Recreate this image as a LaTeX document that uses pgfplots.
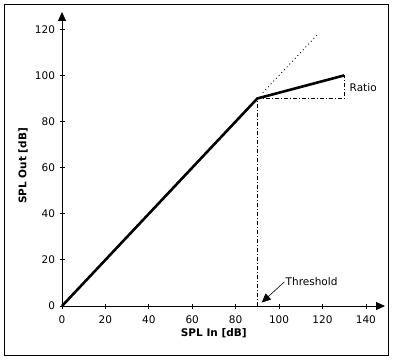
\documentclass[border=0pt]{standalone}
\usepackage{fontspec}
\setmainfont{DejaVu Sans}
\usepackage{pgfplots}
\pgfplotsset{compat=1.18}
\usetikzlibrary{arrows.meta}
\begin{document}
\begin{tikzpicture}[x=1pt,y=1pt]
\path (-62,-56) rectangle (333,306);
\draw[line width=1pt] (-57,-49) rectangle (326,301);
\begin{axis}[
  at={(0,0)}, anchor=origin,
  scale only axis, width=323pt, height=294pt,
  xmin=0, xmax=148.8, ymin=0, ymax=127.5,
  axis lines=left,
  axis line style={line width=0.8pt, -{Triangle[length=9pt,width=8pt]}},
  xtick={0,20,...,140}, ytick={0,20,...,120},
  tick align=center, major tick length=5pt,
  tick style={line width=0.8pt, black},
  ticklabel style={font=\fontsize{10.5}{12}\selectfont},
  /pgf/number format/assume math mode=true,
  xticklabel style={yshift=-4pt},
  yticklabel style={xshift=-1pt},
  xlabel={SPL In [dB]}, ylabel={SPL Out [dB]},
  label style={font=\fontsize{10.5}{12}\selectfont\bfseries},
  xlabel style={at={(rel axis cs:0.47,0)}, anchor=center, yshift=-27pt},
  ylabel style={at={(rel axis cs:0,0.476)}, anchor=center, rotate=0, yshift=39pt, xshift=0pt},
  clip=false,
]
\addplot[line width=2.6pt, black] coordinates {(0,0) (90,90) (130,100)};
\addplot[line width=0.9pt, black, dash pattern=on 0.9pt off 3pt] coordinates {(92.5,92.5) (118,118)};
\addplot[line width=0.7pt, black, dash pattern=on 4pt off 2pt on 1pt off 2pt] coordinates {(90,0) (90,90) (130,90) (130,100)};
\draw[line width=0.6pt, -{Triangle[length=9pt,width=8pt]}] (axis cs:102.5,10.5) -- (axis cs:92,1.5);
\node[anchor=west, inner sep=1pt, font=\fontsize{10.5}{12}\selectfont] at (axis cs:102.5,10.5) {Threshold};
\node[anchor=west, inner sep=1pt, font=\fontsize{10.5}{12}\selectfont] at (axis cs:132,94.6) {Ratio};
\end{axis}
\end{tikzpicture}
\end{document}
